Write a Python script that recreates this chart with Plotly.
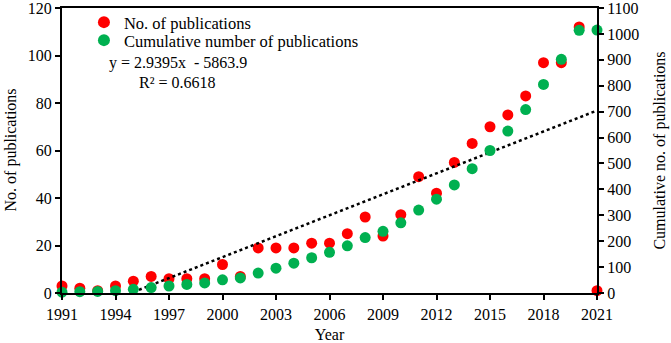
import plotly.graph_objects as go

years = list(range(1991, 2022))
publications = [3, 2, 1, 3, 5, 7, 6, 6, 6, 12, 7, 19, 19, 19, 21, 21, 25, 32, 24, 33,
                49, 42, 55, 63, 70, 75, 83, 97, 97, 112, 1]
cumulative = [3, 5, 6, 9, 14, 21, 27, 33, 39, 51, 58, 77, 96, 115, 136, 157, 182, 214,
              238, 271, 320, 362, 417, 480, 550, 625, 708, 805, 902, 1014, 1015]
trend_slope = 2.9395
trend_intercept = -5863.9
trend_start = 1995
trend_end = 2021
x_ticks = list(range(1991, 2022, 3))

font_family = "Liberation Serif, Times New Roman, serif"

trend_x = [trend_start, trend_end]
trend_y = [trend_slope * x + trend_intercept for x in trend_x]

fig = go.Figure()
fig.add_trace(go.Scatter(
    x=years, y=publications, mode="markers", name="No. of publications",
    marker=dict(color="#FF0000", size=11), cliponaxis=False, yaxis="y", legend="legend"))
fig.add_trace(go.Scatter(
    x=years, y=cumulative, mode="markers", name="Cumulative number of publications",
    marker=dict(color="#00B050", size=11), cliponaxis=False, yaxis="y2", legend="legend2"))
fig.add_trace(go.Scatter(
    x=trend_x, y=trend_y, mode="lines", showlegend=False,
    line=dict(color="black", width=2.5, dash="dot"), yaxis="y"))

axis_common = dict(showline=True, linecolor="black", linewidth=2, ticks="outside",
                   ticklen=5, tickwidth=1.5, tickcolor="black", showgrid=False,
                   zeroline=False, automargin=False, ticklabeloverflow="allow",
                   tickfont=dict(size=16, color="black"))

legend_common = dict(x=0.041, xref="paper", yref="paper", xanchor="left", yanchor="top",
                     bgcolor="rgba(0,0,0,0)", font=dict(size=16.5), itemsizing="constant")

fig.update_layout(
    width=671, height=343,
    margin=dict(l=62, r=74, t=8, b=50, autoexpand=False),
    paper_bgcolor="white", plot_bgcolor="white",
    font=dict(family=font_family, size=16, color="black"),
    xaxis=dict(range=[1991, 2021], tickvals=x_ticks, mirror=True, ticklabelstandoff=1,
               title=dict(text="Year", font=dict(size=16), standoff=7), **axis_common),
    yaxis=dict(range=[0, 120], dtick=20, **axis_common),
    yaxis2=dict(range=[0, 1100], dtick=100, overlaying="y", side="right",
                title=dict(text="Cumulative no. of publications", font=dict(size=16), standoff=16),
                **axis_common),
    legend=dict(y=(292.6 - 4.5) / 285, **legend_common),
    legend2=dict(y=(292.6 - 22.5) / 285, **legend_common),
    showlegend=True,
    annotations=[
        dict(text="No. of publications", xref="paper", yref="paper",
             x=(10 - 62) / 535, y=0.5, xanchor="center", yanchor="middle",
             textangle=-90, showarrow=False, font=dict(size=16)),
        dict(text="y = 2.9395x  - 5863.9", xref="paper", yref="paper",
             x=(178 - 62) / 535, y=(292.6 - 63) / 285, xanchor="center", yanchor="middle",
             showarrow=False, font=dict(size=16)),
        dict(text="R² = 0.6618", xref="paper", yref="paper",
             x=(177 - 62) / 535, y=(292.6 - 82) / 285, xanchor="center", yanchor="middle",
             showarrow=False, font=dict(size=16)),
    ],
)

fig.write_html("out.html", config={"displayModeBar": False},
               post_script="document.body.style.margin='0';document.body.style.padding='0';")
